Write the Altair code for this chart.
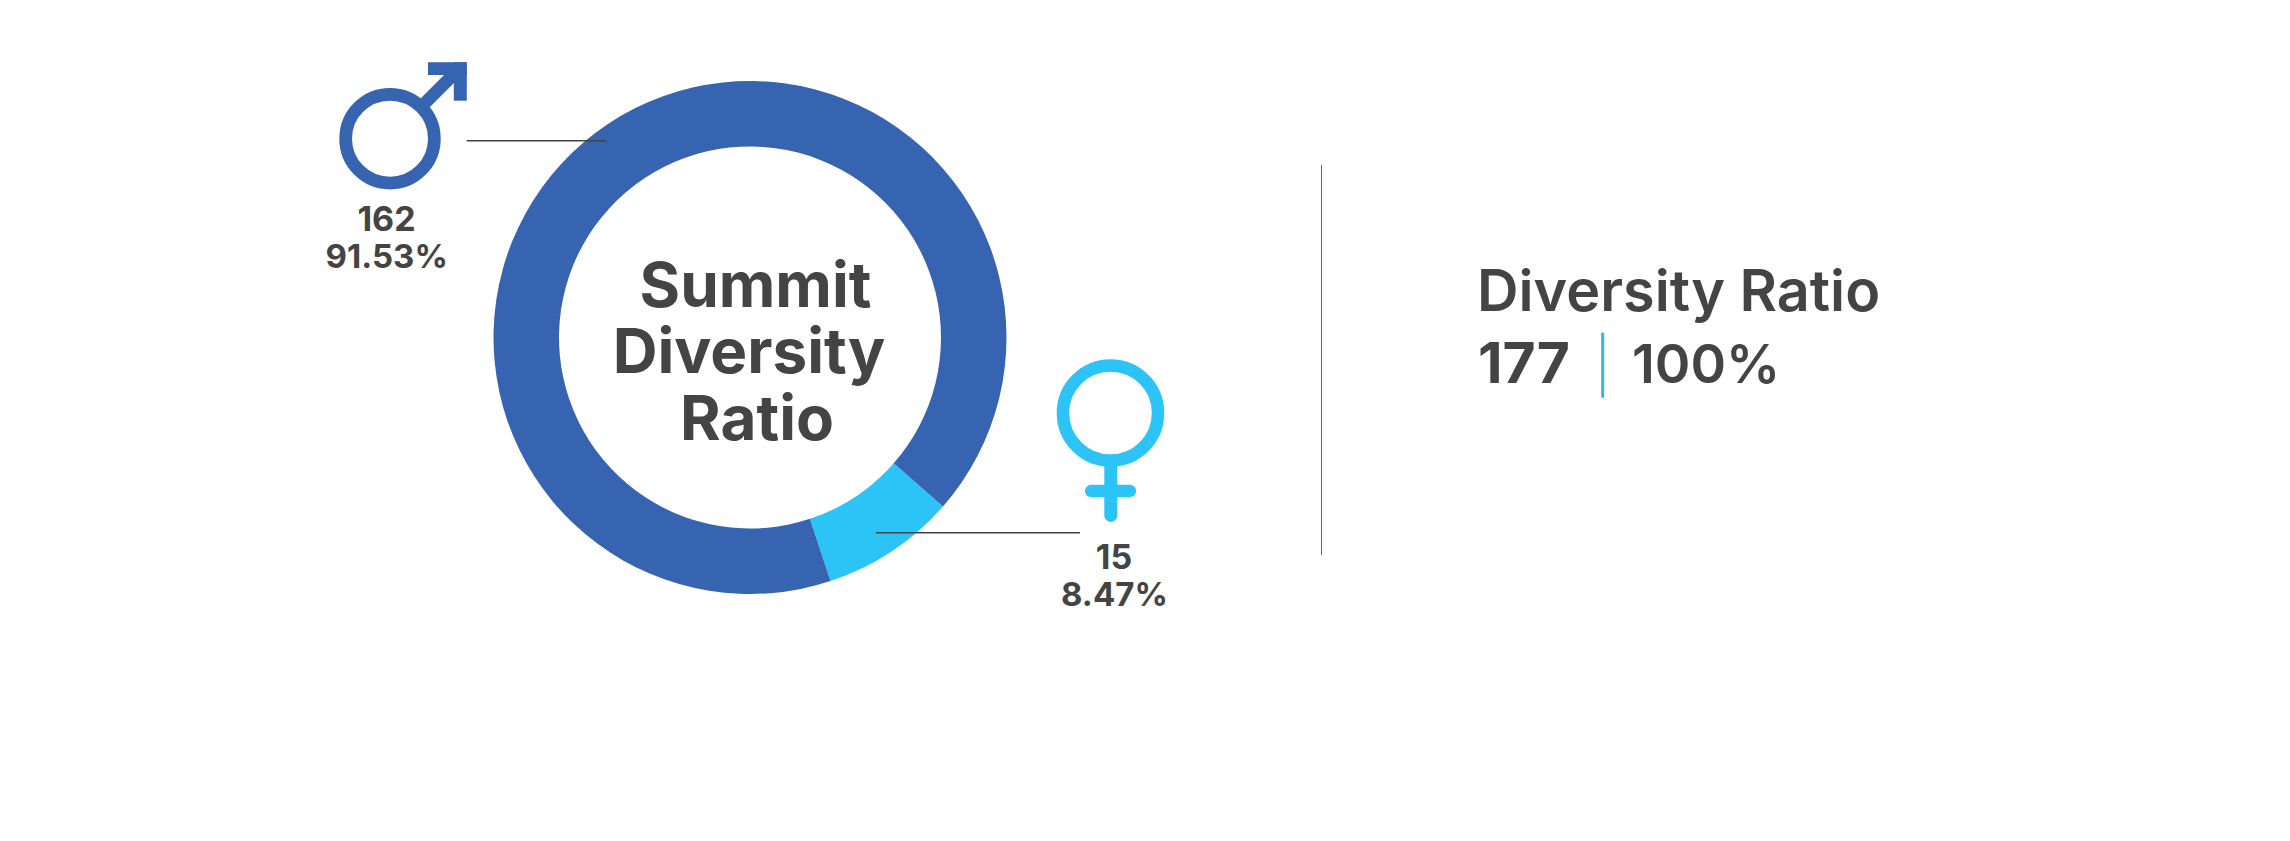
import altair as alt
import pandas as pd

genders = ["Female", "Male"]
counts = [15, 162]
count_labels = ["162", "15"]
share_labels = ["91.53%", "8.47%"]
title_lines = ["Summit", "Diversity", "Ratio"]
side_title = "Diversity Ratio"
total_label = "177"
total_share = "100%"

DARK = "#3664b0"
LIGHT = "#2cc4f6"
TEXT = "#444444"
FONT = "Inter"
START = 2.29
OFF = 8  # page margin


def px(v):
    return alt.value(v - OFF)


def text(label, x, y, size, weight=600, align="center"):
    return alt.Chart(pd.DataFrame({"t": [label]})).mark_text(
        font=FONT, fontSize=size, fontWeight=weight, color=TEXT,
        align=align, baseline="alphabetic"
    ).encode(text="t:N", x=px(x), y=px(y))


def rule(x1, y1, x2, y2, color, width, cap="butt"):
    return alt.Chart(pd.DataFrame({"a": [0]})).mark_rule(
        color=color, strokeWidth=width, strokeCap=cap
    ).encode(x=px(x1), x2=px(x2), y=px(y1), y2=px(y2))


def ring(cx, cy, inner, outer, color):
    mid = (inner + outer) / 2
    return alt.Chart(pd.DataFrame({"a": [0]})).mark_point(
        shape="circle", filled=False, opacity=1, color=color,
        size=(2 * mid) ** 2, strokeWidth=outer - inner
    ).encode(x=px(cx), y=px(cy))


donut = alt.Chart(pd.DataFrame({"gender": genders, "count": counts})).mark_arc(
    innerRadius=191, outerRadius=256.5
).encode(
    theta=alt.Theta("count:Q", stack=True,
                    scale=alt.Scale(range=[START, START + 6.28318])),
    order=alt.Order("gender:N", sort="ascending"),
    color=alt.Color("gender:N", legend=None,
                    scale=alt.Scale(domain=["Male", "Female"], range=[DARK, LIGHT])),
    x=px(750), y=px(337.5),
)

layers = [
    donut,
    text(title_lines[0], 755.5, 306.7, 62, 700),
    text(title_lines[1], 749, 372.7, 62, 700),
    text(title_lines[2], 757, 440, 62, 700),
    # male icon
    ring(390, 138.7, 38, 50.7, DARK),
    rule(422, 106, 460, 68, DARK, 12.5),
    rule(428, 68.6, 466.7, 68.6, DARK, 12.7),
    rule(460.3, 62.3, 460.3, 100.7, DARK, 13),
    rule(466.7, 140.7, 606, 140.7, TEXT, 1.5),
    text(count_labels[0], 386.5, 231, 34, 700),
    text(share_labels[0], 386.7, 267.7, 33, 700),
    # female icon
    ring(1110.5, 413, 41.3, 53.8, LIGHT),
    rule(1110.8, 465, 1110.8, 515.5, LIGHT, 13, "round"),
    rule(1091, 491, 1130, 491, LIGHT, 12.3, "round"),
    rule(876, 532.7, 1080, 532.7, TEXT, 1.5),
    text(count_labels[1], 1114, 569, 34, 700),
    text(share_labels[1], 1114.5, 606, 33, 700),
    # right panel
    rule(1321.5, 165, 1321.5, 555, "#666666", 1),
    text(side_title, 1477, 311, 57.5, 600, "left"),
    text(total_label, 1478, 383, 57, 700, "left"),
    rule(1602.7, 332.7, 1602.7, 397.7, "#35b6e2", 3),
    text(total_share, 1632, 383, 54, 600, "left"),
]

chart = alt.layer(*layers).properties(
    width=2274, height=825, padding=0, background="white"
).configure_view(strokeWidth=0)

chart.save("out.html", embed_options={"renderer": "svg", "actions": False})
